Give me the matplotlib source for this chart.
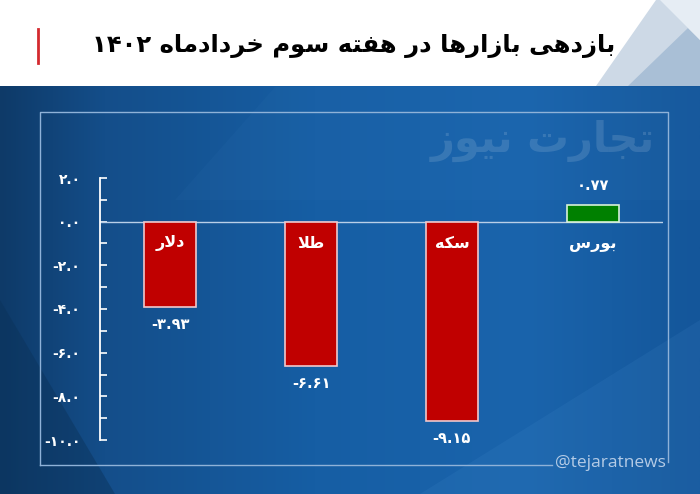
import numpy as np
import matplotlib
matplotlib.use("Agg")
import matplotlib.pyplot as plt
from matplotlib.patches import Polygon, Rectangle

# data
categories = ["دلار", "طلا", "سکه", "بورس"]
values = [-3.93, -6.61, -9.15, 0.77]
bar_colors = ["#c00000", "#c00000", "#c00000", "#008000"]
yticks = [2, 0, -2, -4, -6, -8, -10]
title = "بازدهی بازارها در هفته سوم خردادماه ۱۴۰۲"
watermark = "تجارت نیوز"
handle = "@tejaratnews"

# --- tiny persian shaper (no arabic_reshaper here) ---
# char: (isolated, final, initial, medial); right-joining letters only have 2 forms
FORMS = {
    "ا": ("\uFE8D", "\uFE8E"),
    "د": ("\uFEA9", "\uFEAA"),
    "ر": ("\uFEAD", "\uFEAE"),
    "ز": ("\uFEAF", "\uFEB0"),
    "و": ("\uFEED", "\uFEEE"),
    "ب": ("\uFE8F", "\uFE90", "\uFE91", "\uFE92"),
    "ت": ("\uFE95", "\uFE96", "\uFE97", "\uFE98"),
    "ج": ("\uFE9D", "\uFE9E", "\uFE9F", "\uFEA0"),
    "خ": ("\uFEA5", "\uFEA6", "\uFEA7", "\uFEA8"),
    "س": ("\uFEB1", "\uFEB2", "\uFEB3", "\uFEB4"),
    "ط": ("\uFEC1", "\uFEC2", "\uFEC3", "\uFEC4"),
    "ف": ("\uFED1", "\uFED2", "\uFED3", "\uFED4"),
    "ل": ("\uFEDD", "\uFEDE", "\uFEDF", "\uFEE0"),
    "م": ("\uFEE1", "\uFEE2", "\uFEE3", "\uFEE4"),
    "ن": ("\uFEE5", "\uFEE6", "\uFEE7", "\uFEE8"),
    "ه": ("\uFEE9", "\uFEEA", "\uFEEB", "\uFEEC"),
    "ی": ("\uFBFC", "\uFBFD", "\uFBFE", "\uFBFF"),
    "ک": ("\uFB8E", "\uFB8F", "\uFB90", "\uFB91"),
}


def shape_word(w):
    out = []
    i = 0
    n = len(w)
    while i < n:
        c = w[i]
        if c not in FORMS:
            out.append(c)
            i += 1
            continue
        prev = w[i - 1] if i > 0 else None
        jp = prev is not None and prev in FORMS and len(FORMS[prev]) == 4
        if c == "ل" and i + 1 < n and w[i + 1] == "ا":
            out.append("\uFEFC" if jp else "\uFEFB")
            i += 2
            continue
        nxt = w[i + 1] if i + 1 < n else None
        jn = len(FORMS[c]) == 4 and nxt is not None and nxt in FORMS
        f = FORMS[c]
        if jp and jn:
            out.append(f[3])
        elif jp:
            out.append(f[1])
        elif jn:
            out.append(f[2])
        else:
            out.append(f[0])
        i += 1
    return "".join(out)


def fa(text):
    words = []
    for w in text.split(" "):
        if any(ch in FORMS for ch in w):
            words.append(shape_word(w)[::-1])
        else:
            words.append(w)
    return " ".join(words[::-1])


DIG = str.maketrans("0123456789", "۰۱۲۳۴۵۶۷۸۹")


def fnum(v, nd):
    return f"{v:.{nd}f}".translate(DIG)


W, H = 700, 494
fig = plt.figure(figsize=(7, 4.94), dpi=100)

# background in pixel coords
bg = fig.add_axes([0, 0, 1, 1])
bg.set_xlim(0, W)
bg.set_ylim(H, 0)
bg.axis("off")

xs = np.linspace(0, 1, W)
stops_x = [0.0, 0.15, 0.45, 0.75, 1.0]
cols = np.array([[14, 58, 104], [20, 78, 138], [22, 94, 164], [26, 100, 172], [20, 86, 154]]) / 255
grad = np.stack([np.interp(xs, stops_x, cols[:, k]) for k in range(3)], axis=-1)
img = np.repeat(grad[None, :, :], H, axis=0)
bg.imshow(img, extent=[0, W, H, 0], aspect="auto", zorder=0)

# soft shapes
bg.add_patch(Polygon([[0, 300], [0, H], [115, H]], closed=True, color="#0b3259", alpha=0.45, lw=0, zorder=1))
bg.add_patch(Polygon([[275, 87], [700, 87], [700, 200], [175, 200]], closed=True, color="#4a90d0", alpha=0.06, lw=0, zorder=1))
bg.add_patch(Polygon([[420, H], [700, 320], [700, H]], closed=True, color="#5aa0e0", alpha=0.10, lw=0, zorder=1))

# white header
bg.add_patch(Rectangle((0, 0), W, 86, color="white", lw=0, zorder=2))
bg.add_patch(Polygon([[596, 86], [656, 0], [700, 0], [700, 86]], closed=True, color="#cdd9e6", lw=0, zorder=3))
bg.add_patch(Polygon([[628, 86], [688, 28], [700, 40], [700, 86]], closed=True, color="#a9bfd6", lw=0, zorder=3))
bg.add_patch(Polygon([[660, 0], [700, 0], [700, 40]], closed=True, color="#e6edf4", lw=0, zorder=3))
bg.plot([38, 38], [29, 63], color="#d42a2f", lw=2, zorder=4)
bg.text(615, 46, fa(title), ha="right", va="center", fontsize=17.5, fontweight="bold",
        color="black", family="DejaVu Sans", zorder=4)

# inner frame
fc = "#8fb2d8"
bg.plot([40, 40, 668, 668], [465, 112, 112, 462], color=fc, lw=1, zorder=3)
bg.plot([40, 552], [465, 465], color=fc, lw=1, zorder=3)
bg.text(555, 463, handle, ha="left", va="center", fontsize=12.5, color="#b4cbe6",
        family="Open Sans", zorder=3)
bg.text(655, 141, fa(watermark), ha="right", va="center", fontsize=30, fontweight="bold",
        color="white", alpha=0.13, family="DejaVu Sans", zorder=3)

# chart
ax = fig.add_axes([100 / W, (H - 440) / H, 563 / W, 262 / H])
ax.patch.set_alpha(0)
x = np.arange(len(categories))
edges = ["#f0c8cc" if v < 0 else "#d8f0d8" for v in values]
ax.bar(x, values, width=0.37, color=bar_colors, edgecolor=edges, linewidth=1.2, zorder=3)
ax.axhline(0, color="#b9cfe8", lw=1, zorder=2)
ax.set_xlim(-0.5, 3.5)
ax.set_ylim(-10, 2)

for s in ["top", "right", "bottom"]:
    ax.spines[s].set_visible(False)
ax.spines["left"].set_color("white")
ax.spines["left"].set_linewidth(1.3)
ax.set_xticks([])
ax.set_yticks(yticks)
ax.set_yticklabels([fnum(t, 1) for t in yticks])
ax.set_yticks(np.arange(-9, 2, 2), minor=True)
ax.tick_params(axis="y", which="both", direction="in", length=5, width=1.2, color="white",
               labelcolor="white", pad=14, labelsize=10)
for lab in ax.get_yticklabels():
    lab.set_fontweight("bold")

for xi, v, name in zip(x, values, categories):
    if v < 0:
        ax.annotate(fa(name), (xi, 0), xytext=(0, -15.5), textcoords="offset points",
                    ha="center", va="center", color="white", fontsize=11.5, fontweight="bold")
        ax.annotate(fnum(v, 2), (xi, v), xytext=(0, -12.5), textcoords="offset points",
                    ha="center", va="center", color="white", fontsize=10.5, fontweight="bold")
    else:
        ax.annotate(fa(name), (xi, 0), xytext=(0, -16.5), textcoords="offset points",
                    ha="center", va="center", color="white", fontsize=11.5, fontweight="bold")
        ax.annotate(fnum(v, 2), (xi, v), xytext=(0, 14), textcoords="offset points",
                    ha="center", va="center", color="white", fontsize=10.5, fontweight="bold")

fig.savefig("out.png", dpi=100)
